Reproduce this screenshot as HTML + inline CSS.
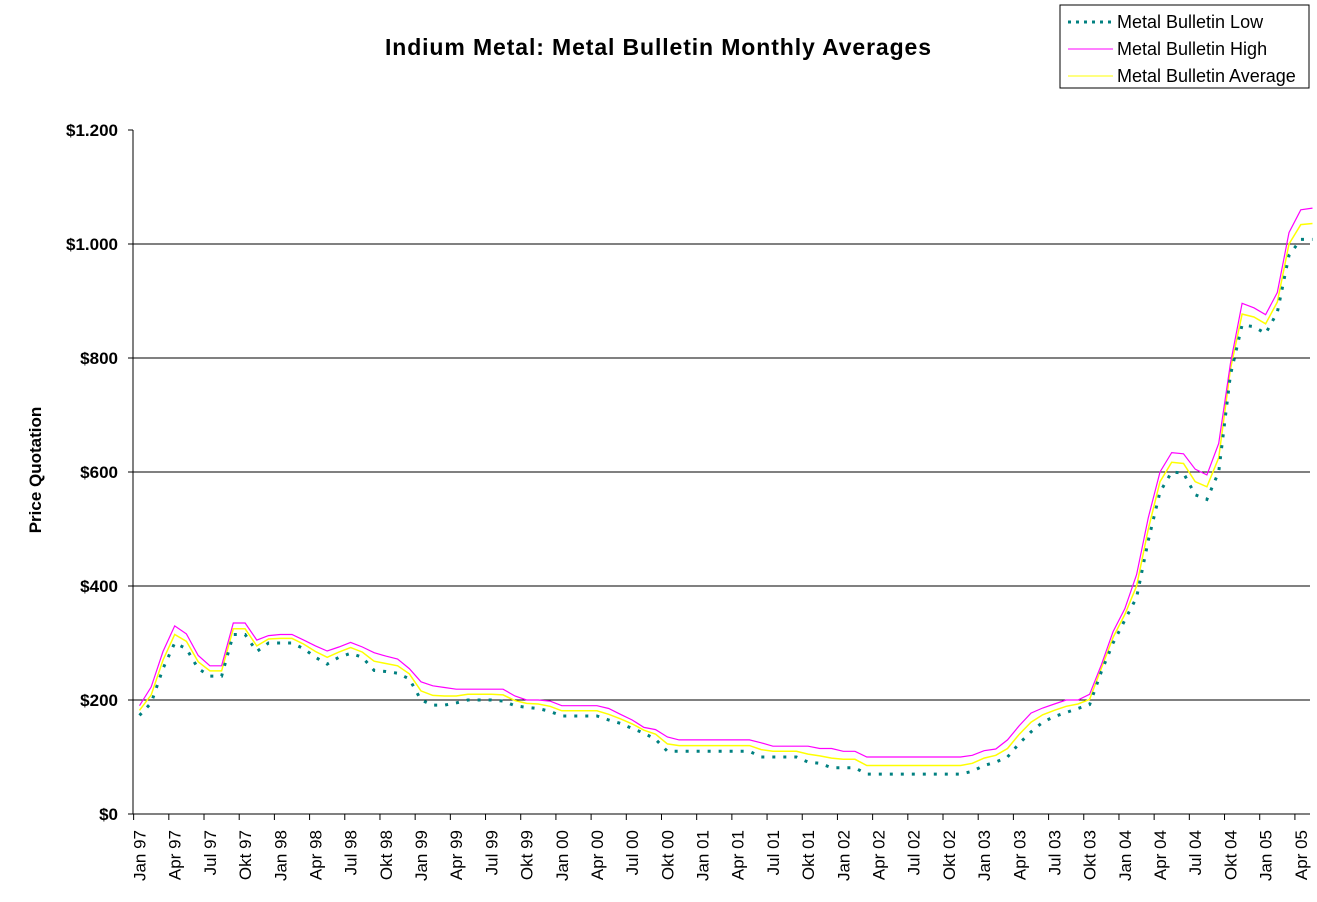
<!DOCTYPE html>
<html><head><meta charset="utf-8"><style>
html,body{margin:0;padding:0;background:#fff;}
svg{display:block;font-family:"Liberation Sans",Arial,sans-serif;}
</style></head><body>
<svg id="chart" width="1317" height="902" viewBox="0 0 1317 902">
<text x="658" y="55" text-anchor="middle" font-size="23" font-weight="bold" textLength="546">Indium Metal: Metal Bulletin Monthly Averages</text>
<text transform="translate(41,470) rotate(-90)" text-anchor="middle" font-size="17" font-weight="bold">Price Quotation</text>
<g id="grid"></g>
<g id="yticks"></g>
<g id="xticks"></g>
<g id="series"></g>
<g>
<rect x="1060" y="5" width="249" height="83" fill="#fff" stroke="#000" stroke-width="1"/>
<line x1="1068" y1="22" x2="1113" y2="22" stroke="#008080" stroke-width="3" stroke-dasharray="3,5"/>
<text x="1117" y="28" font-size="18">Metal Bulletin Low</text>
<line x1="1068" y1="49" x2="1113" y2="49" stroke="#ff00ff" stroke-width="1"/>
<text x="1117" y="55" font-size="18">Metal Bulletin High</text>
<line x1="1068" y1="76" x2="1113" y2="76" stroke="#ffff00" stroke-width="1"/>
<text x="1117" y="82" font-size="18">Metal Bulletin Average</text>
</g>
</svg>
<script>
const yTicks = [0,200,400,600,800,1000,1200];
const yTickLabels = ["$0","$200","$400","$600","$800","$1.000","$1.200"];
const monthNames = ["Jan","Apr","Jul","Okt"];
const years = ["97","98","99","00","01","02","03","04","05"];
const highValues = [190,223,285,330,316,278,260,260,335,335,305,313,315,315,305,295,286,293,301,293,283,277,272,255,232,225,222,219,219,219,219,219,207,200,200,198,190,190,190,190,185,175,165,152,148,135,130,130,130,130,130,130,130,125,119,119,119,119,115,115,110,110,100,100,100,100,100,100,100,100,100,103,111,114,130,155,177,186,193,200,200,210,262,320,360,420,520,600,634,632,605,595,650,790,896,888,876,915,1020,1060,1063];
const lowValues = [173,195,255,300,290,255,242,242,315,315,285,300,300,300,290,275,263,275,282,275,252,250,247,237,200,191,191,195,200,200,200,198,190,187,185,180,172,172,172,172,165,159,150,142,131,110,110,110,110,110,110,110,110,100,100,100,100,91,89,81,81,81,70,70,70,70,70,70,70,70,70,75,85,91,100,124,144,161,171,178,185,192,250,300,340,380,480,565,600,598,560,552,600,770,858,855,843,880,980,1008,1008];
const avgValues = [182,209,270,315,303,267,251,251,325,325,295,307,308,308,298,285,275,284,292,284,268,264,260,246,216,208,207,207,210,210,210,209,199,194,193,189,181,181,181,181,175,167,158,147,140,123,120,120,120,120,120,120,120,113,110,110,110,105,102,98,96,96,85,85,85,85,85,85,85,85,85,89,98,103,115,140,161,174,182,189,193,201,256,310,350,400,500,583,617,615,583,574,625,780,877,872,860,898,1000,1034,1036];

const NS="http://www.w3.org/2000/svg";
const X0=139.5, DX=11.73, Y0=814, KY=0.57, LEFT=133, RIGHT=1310;
function xs(i){return X0+DX*i;}
function ys(v){return Y0-v*KY;}
function mk(tag,attrs,parent){const e=document.createElementNS(NS,tag);for(const k in attrs)e.setAttribute(k,attrs[k]);parent.appendChild(e);return e;}
const grid=document.getElementById('grid'), yt=document.getElementById('yticks'), xt=document.getElementById('xticks'), ser=document.getElementById('series');

yTicks.forEach((v,i)=>{
  const y=ys(v);
  if(v>0&&v<1200){const g=mk('line',{x1:LEFT,y1:y,x2:RIGHT,y2:y,stroke:'#000','stroke-width':1},grid);
  
  }
  const t=mk('line',{x1:LEFT-5,y1:y,x2:LEFT,y2:y,stroke:'#000'},yt);
  
  
  const tx=mk('text',{x:118,y:y+6,'text-anchor':'end','font-size':17,'font-weight':'bold'},yt);
  tx.textContent=yTickLabels[i];
  
  
});
const ax=mk('line',{x1:LEFT,y1:130,x2:LEFT,y2:Y0,stroke:'#000','stroke-width':1},yt);


const bx=mk('line',{x1:LEFT,y1:Y0,x2:RIGHT,y2:Y0,stroke:'#000','stroke-width':1},xt);



let k=0;
years.forEach(yr=>{monthNames.forEach(m=>{
  const i=k*3;k++;
  if(i>=highValues.length)return;
  const x=xs(i);
  const tb=x-DX/2;
  const tk=mk('line',{x1:tb,y1:Y0,x2:tb,y2:Y0+6,stroke:'#000'},xt);
  
  
  const tx=mk('text',{transform:`translate(${x+6},${Y0+16}) rotate(-90)`,'text-anchor':'end','font-size':17},xt);
  tx.textContent=m+' '+yr;
  
  
});});

function pts(arr){return arr.map((v,i)=>xs(i).toFixed(1)+','+ys(v).toFixed(1)).join(' ');}
const pa=mk('polyline',{points:pts(avgValues),fill:'none',stroke:'#ffff00','stroke-width':1.5},ser);


const ph=mk('polyline',{points:pts(highValues),fill:'none',stroke:'#ff00ff','stroke-width':1.2},ser);


const pl=mk('polyline',{points:pts(lowValues),fill:'none',stroke:'#008080','stroke-width':3,'stroke-dasharray':'3,8'},ser);


</script>
</body></html>
